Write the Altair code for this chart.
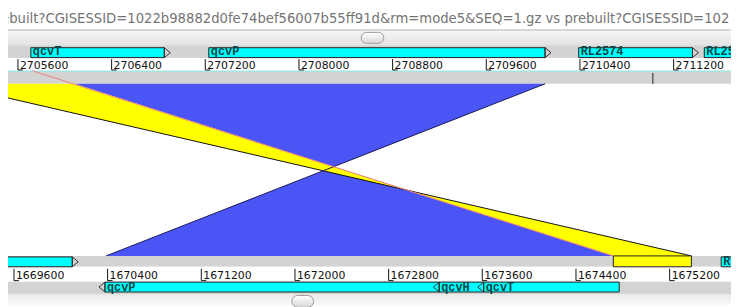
import altair as alt
import pandas as pd

W, H = 731, 299

# ---------------- data ----------------
title_text = "ebuilt?CGISESSID=1022b98882d0fe74bef56007b55ff91d&rm=mode5&SEQ=1.gz vs prebuilt?CGISESSID=102"

# visible window of the top sequence, and where the bottom sequence sits under it
X_DOMAIN = [2705515, 2711690]
BOTTOM_SHIFT = 1035966

top_ticks = [2705600, 2706400, 2707200, 2708000, 2708800, 2709600, 2710400, 2711200]
bottom_ticks = [1669600, 1670400, 1671200, 1672000, 1672800, 1673600, 1674400, 1675200]

top_names = ["qcvT", "qcvP", "RL2574", "RL2575"]
top_starts = [2705710, 2707230, 2710389, 2711462]
top_ends = [2706850, 2710102, 2711361, 2712600]
top_strands = ["+", "+", "+", "+"]

botA_names = ["", "RL"]
botA_starts = [1668700, 1675640]
botA_ends = [1670098, 1676600]
botA_strands = ["+", "+"]

botB_names = ["qcvP", "qcvH", "qcvT"]
botB_starts = [1670377, 1673232, 1673612]
botB_ends = [1673232, 1673612, 1674769]
botB_strands = ["-", "-", "-"]

hit_names = ["blue", "yellow"]
hit_colors = ["#4b55f6", "#ffff00"]
hit_top_start = [2706081, 2704992]
hit_top_end = [2710102, 2706081]
hit_bot_start = [1670386, 1674719]
hit_bot_end = [1674719, 1675386]

sel_top = [2705727]
sel_bottom = [1674719]

# ---------------- tables ----------------
one = pd.DataFrame({"k": [0]})
xs = alt.Scale(domain=X_DOMAIN, nice=False, zero=False)


def X(f):
    return alt.X(f, type="quantitative", scale=xs, axis=None)


def band(y0, y1, color, x0=0, x1=W, **kw):
    return alt.Chart(one).mark_rect(color=color, **kw).encode(
        x=alt.value(x0), x2=alt.value(x1), y=alt.value(y0), y2=alt.value(y1))


def feat_df(names, starts, ends, strands, shift=0):
    return pd.DataFrame({"name": names,
                         "start": [s + shift for s in starts],
                         "end": [e + shift for e in ends],
                         "strand": strands})


def features(df, y0, y1, label_y):
    base = alt.Chart(df)
    mid = (y0 + y1) / 2
    boxes = base.mark_rect(color="#00ffff", stroke="#222222", strokeWidth=1, clip=True).encode(
        x=X("start"), x2="end", y=alt.value(y0), y2=alt.value(y1))
    fwd = base.transform_filter(alt.datum.strand == "+").mark_point(
        shape="M0,-1L1.2,0L0,1Z", filled=False, stroke="#333333", strokeWidth=1,
        size=(y1 - y0) ** 2, clip=True, opacity=1).encode(x=X("end"), y=alt.value(mid))
    rev = base.transform_filter(alt.datum.strand == "-").mark_point(
        shape="M0,-1L-1.2,0L0,1Z", filled=False, stroke="#333333", strokeWidth=1,
        size=(y1 - y0) ** 2, clip=True, opacity=1).encode(x=X("start"), y=alt.value(mid))
    labels = base.transform_filter(alt.datum.name != "").mark_text(
        align="left", baseline="alphabetic", dx=2, font="Liberation Mono",
        fontWeight="bold", fontSize=12, color="#0b4545", clip=True).encode(
        x=X("start"), y=alt.value(label_y), text="name")
    return [boxes, fwd, rev, labels]


def ruler(ticks, y0, y1, label_y, shift=0):
    df = pd.DataFrame({"pos": [t + shift for t in ticks], "label": [str(t) for t in ticks]})
    base = alt.Chart(df)
    v = base.mark_rule(color="#111111", strokeWidth=1).encode(
        x=X("pos"), y=alt.value(y0), y2=alt.value(y1))
    foot = base.mark_rule(color="#111111", strokeWidth=1, x2Offset=5).encode(
        x=X("pos"), x2="pos", y=alt.value(y1))
    txt = base.mark_text(align="left", baseline="alphabetic", dx=2, font="DejaVu Sans",
                         fontSize=11, color="#111111").encode(
        x=X("pos"), y=alt.value(label_y), text="label")
    return [v, foot, txt]


rows = []
for n, ts, te, bs, be in zip(hit_names, hit_top_start, hit_top_end, hit_bot_start, hit_bot_end):
    rows.append({"hit": n, "row": 0, "xa": ts, "xb": te})
    rows.append({"hit": n, "row": 1, "xa": be + BOTTOM_SHIFT, "xb": bs + BOTTOM_SHIFT})
hits_long = pd.DataFrame(rows)

Y_TOP, Y_BOT = 75, 249

areas = alt.Chart(hits_long).mark_area(orient="horizontal", clip=True, opacity=1).encode(
    y=alt.Y("row:Q", scale=alt.Scale(domain=[0, 1], range=[Y_TOP, Y_BOT]), axis=None),
    x=X("xa"), x2="xb",
    color=alt.Color("hit:N", scale=alt.Scale(domain=hit_names, range=hit_colors), legend=None),
    detail="hit:N")

edges = pd.DataFrame({
    "top": [hit_top_start[1], hit_top_end[0]],
    "bot": [hit_bot_end[1] + BOTTOM_SHIFT, hit_bot_start[0] + BOTTOM_SHIFT],
    "col": ["#111111", "#1a1a55"],
})
edge_rules = alt.Chart(edges).mark_rule(strokeWidth=1, clip=True).encode(
    x=X("top"), x2="bot", y=alt.value(Y_TOP), y2=alt.value(Y_BOT),
    color=alt.Color("col:N", scale=None))

sel = pd.DataFrame({"top": sel_top, "bot": [b + BOTTOM_SHIFT for b in sel_bottom]})
sel_rule = alt.Chart(sel).mark_rule(color="#ee7f7f", strokeWidth=1, clip=True).encode(
    x=X("top"), x2="bot", y=alt.value(62), y2=alt.value(Y_BOT))

title = alt.Chart(one).mark_text(align="left", baseline="alphabetic", font="DejaVu Sans",
                                 fontSize=13.35, color="#747474").encode(
    x=alt.value(-7), y=alt.value(14), text=alt.value(title_text))

grad_bar = alt.Gradient(gradient="linear", x1=0, x2=0, y1=0, y2=1,
                        stops=[alt.GradientStop(color="#f7f7f7", offset=0),
                               alt.GradientStop(color="#e3e3e3", offset=1)])
grad_btn = alt.Gradient(gradient="linear", x1=0, x2=0, y1=0, y2=1,
                        stops=[alt.GradientStop(color="#ffffff", offset=0),
                               alt.GradientStop(color="#d8d8d8", offset=1)])
grad_bottom = alt.Gradient(gradient="linear", x1=0, x2=0, y1=0, y2=1,
                           stops=[alt.GradientStop(color="#e9e9e9", offset=0),
                                  alt.GradientStop(color="#fafafa", offset=1)])

GREY = "#d3d3d3"

layers = [
    band(0, H, "#ffffff"),
    band(20, 36, grad_bar),
    band(20, 21, "#b5b5b5"),
    alt.Chart(one).mark_rect(color=grad_btn, stroke="#9a9a9a", strokeWidth=1, cornerRadius=6).encode(
        x=alt.value(357), x2=alt.value(380), y=alt.value(23), y2=alt.value(34)),
    band(36, 49, GREY),
    band(49, 61.5, "#ffffff"),
    band(61.5, 63, "#a6e4e4"),
    band(63, 75, GREY),
    alt.Chart(one).mark_rule(color="#222222").encode(x=alt.value(652), y=alt.value(64), y2=alt.value(75)),
    band(249, 260, GREY),
    band(260, 275, "#ffffff"),
    band(275, 288, GREY),
    band(288, H, grad_bottom),
    alt.Chart(one).mark_rect(color=grad_btn, stroke="#9a9a9a", strokeWidth=1, cornerRadius=6).encode(
        x=alt.value(287), x2=alt.value(309), y=alt.value(289), y2=alt.value(301)),
    title,
    areas,
    edge_rules,
    sel_rule,
]

# yellow match block in the bottom track
ymatch = pd.DataFrame({"s": [hit_bot_start[1] + BOTTOM_SHIFT], "e": [hit_bot_end[1] + BOTTOM_SHIFT]})
layers.append(alt.Chart(ymatch).mark_rect(color="#ffff00", stroke="#222222", strokeWidth=1).encode(
    x=X("s"), x2="e", y=alt.value(249), y2=alt.value(260)))

layers += features(feat_df(top_names, top_starts, top_ends, top_strands), 38.5, 48.5, 46)
layers += ruler(top_ticks, 50, 61, 60)
layers += features(feat_df(botA_names, botA_starts, botA_ends, botA_strands, BOTTOM_SHIFT), 250, 260, 258)
layers += ruler(bottom_ticks, 262, 274, 272, BOTTOM_SHIFT)
layers += features(feat_df(botB_names, botB_starts, botB_ends, botB_strands, BOTTOM_SHIFT), 275.5, 285.5, 284)

chart = alt.layer(*layers).properties(
    width=W, height=H, padding=0, autosize=alt.AutoSizeParams(type="none")
).configure_view(stroke=None)

chart.save("out.html", embed_options={"renderer": "svg", "actions": False})
